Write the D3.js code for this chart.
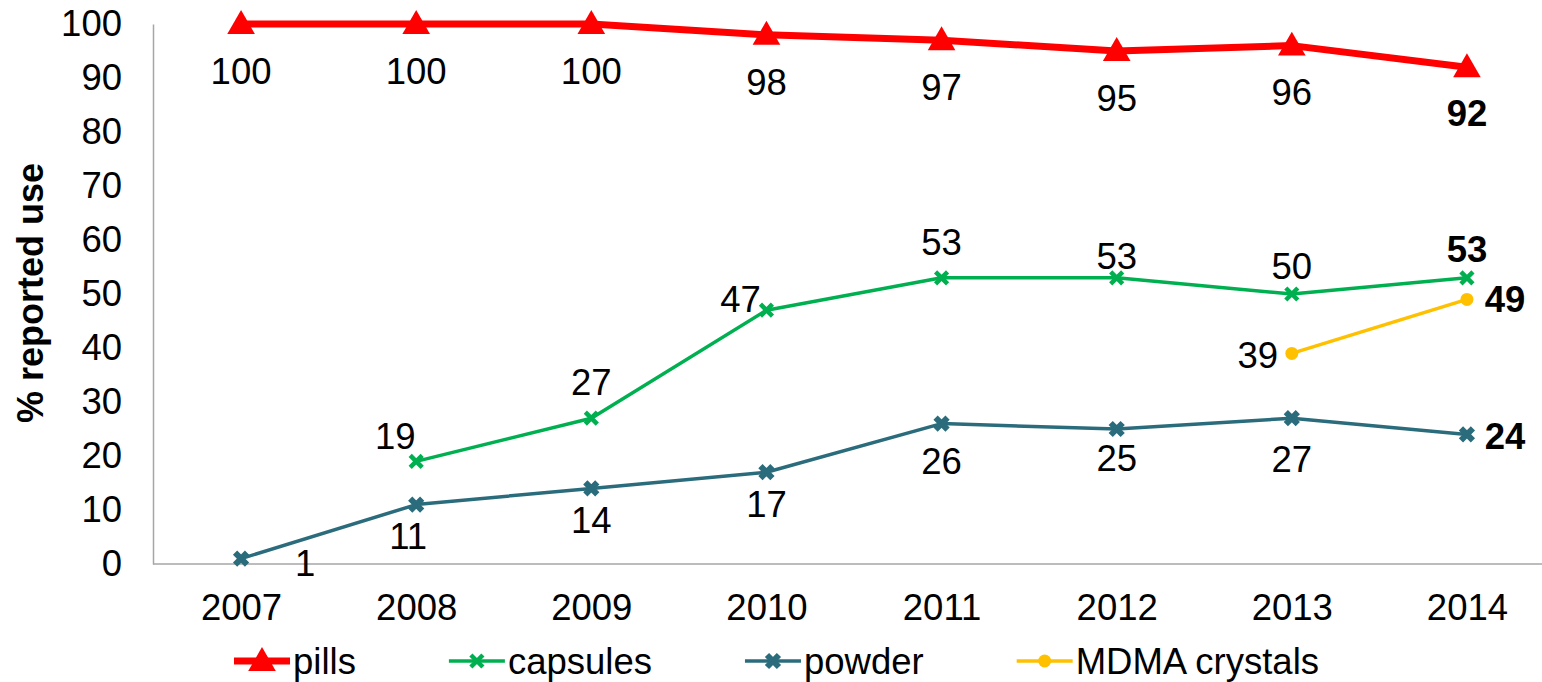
<!DOCTYPE html>
<html lang="en">
<head>
    <meta charset="UTF-8">
    <script src="https://cdn.jsdelivr.net/npm/d3@7"></script>
    <title>% reported use</title>
    <style>
        body { margin: 0; background: white; }
        text { font-family: Arial, "Liberation Sans", sans-serif; fill: #000; }
    </style>
</head>
<body>
    <div id="chart"></div>
    <script>
        // Data
        const years = ["2007", "2008", "2009", "2010", "2011", "2012", "2013", "2014"];
        const pills = [100, 100, 100, 98, 97, 95, 96, 92];
        const capsules = [null, 19, 27, 47, 53, 53, 50, 53];
        const powder = [1, 11, 14, 17, 26, 25, 27, 24];
        const mdmaCrystals = [null, null, null, null, null, null, 39, 49];
        const yTicks = [0, 10, 20, 30, 40, 50, 60, 70, 80, 90, 100];

        const width = 1542, height = 682;
        const fontSize = 36.5;

        const svg = d3.select("#chart").append("svg")
            .attr("width", width)
            .attr("height", height);

        const x = d3.scalePoint()
            .domain(years)
            .range([153.5, 1554.5])
            .padding(0.5);

        const y = d3.scaleLinear()
            .domain([0, 100])
            .range([564, 24]);

        // y axis
        const yAxis = svg.append("g")
            .attr("transform", "translate(153,0)")
            .call(d3.axisLeft(y).tickValues(yTicks).tickSize(0).tickPadding(31));
        yAxis.select(".domain").attr("stroke", "#a6a6a6").attr("stroke-width", 1.5);
        yAxis.selectAll("text")
            .attr("font-size", fontSize)
            .attr("font-family", "Arial, 'Liberation Sans', sans-serif");

        // x axis
        const xAxis = svg.append("g")
            .attr("transform", "translate(0,564)")
            .call(d3.axisBottom(x).tickSize(0).tickPadding(30));
        xAxis.select(".domain").attr("stroke", "#a6a6a6").attr("stroke-width", 1.5)
            .attr("d", "M153,0H1542");
        xAxis.selectAll("text")
            .attr("font-size", fontSize)
            .attr("font-family", "Arial, 'Liberation Sans', sans-serif");

        // axis title
        svg.append("text")
            .attr("transform", "translate(30,293) rotate(-90)")
            .attr("text-anchor", "middle")
            .attr("dominant-baseline", "central")
            .attr("font-size", 36)
            .attr("font-weight", "bold")
            .text("% reported use");

        // marker shapes
        const triangle = d3.symbol().type(d3.symbolTriangle).size(330);
        const drawMarker = (g, type, color, cx, cy) => {
            if (type === "triangle") {
                g.append("path").attr("d", triangle())
                    .attr("transform", `translate(${cx},${cy + 2})`)
                    .attr("fill", color);
            } else if (type === "x") {
                g.append("path").attr("d", "M-6,-6L6,6M-6,6L6,-6")
                    .attr("transform", `translate(${cx},${cy})`)
                    .attr("stroke", color).attr("stroke-width", 4.5).attr("fill", "none");
            } else if (type === "xbold") {
                g.append("path").attr("d", "M-6,-6L6,6M-6,6L6,-6")
                    .attr("transform", `translate(${cx},${cy})`)
                    .attr("stroke", color).attr("stroke-width", 6).attr("fill", "none");
            } else {
                g.append("circle").attr("cx", cx).attr("cy", cy).attr("r", 6.5).attr("fill", color);
            }
        };

        // label offsets relative to each point (centre of label)
        const series = [
            { name: "pills", values: pills, color: "#ff0000", lw: 7, marker: "triangle",
              offsets: [[0, 47], [0, 47], [0, 47], [0, 47], [0, 47], [0, 47], [0, 47], [0, 46]] },
            { name: "capsules", values: capsules, color: "#00b050", lw: 3.5, marker: "x",
              offsets: [null, [-21, -25], [0, -36], [-26, -11], [0, -36], [0, -22], [0, -28], [0, -29]] },
            { name: "powder", values: powder, color: "#2b6c7c", lw: 3.5, marker: "xbold",
              offsets: [[64, 5], [-8, 32], [0, 32], [0, 32], [0, 38], [0, 29], [0, 41], [38, 2]] },
            { name: "MDMA crystals", values: mdmaCrystals, color: "#ffc000", lw: 3.5, marker: "circle",
              offsets: [null, null, null, null, null, null, [-34, 2], [38, 0]] }
        ];

        const line = d3.line()
            .defined(d => d.v !== null)
            .x(d => x(d.year))
            .y(d => y(d.v));

        series.forEach(s => {
            const pts = years.map((year, i) => ({ year, v: s.values[i], i }));
            const g = svg.append("g");
            g.append("path")
                .datum(pts)
                .attr("d", line)
                .attr("fill", "none")
                .attr("stroke", s.color)
                .attr("stroke-width", s.lw)
                .attr("stroke-linejoin", "round");

            pts.filter(d => d.v !== null).forEach(d => {
                drawMarker(g, s.marker, s.color, x(d.year), y(d.v));
            });

            const last = years.length - 1;
            g.selectAll("text.lbl")
                .data(pts.filter(d => d.v !== null))
                .enter().append("text")
                .attr("class", "lbl")
                .attr("x", d => x(d.year) + s.offsets[d.i][0])
                .attr("y", d => y(d.v) + s.offsets[d.i][1])
                .attr("dy", "0.35em")
                .attr("text-anchor", "middle")
                .attr("font-size", fontSize)
                .attr("font-weight", d => d.i === last ? "bold" : "normal")
                .text(d => d.v);
        });

        // legend
        const legend = svg.append("g").attr("transform", "translate(0,661)");
        let lx = 234;
        series.forEach(s => {
            const item = legend.append("g");
            item.append("line")
                .attr("x1", lx).attr("x2", lx + 56)
                .attr("y1", 0).attr("y2", 0)
                .attr("stroke", s.color).attr("stroke-width", s.lw);
            drawMarker(item, s.marker, s.color, lx + 28, 0);
            const t = item.append("text")
                .attr("x", lx + 59)
                .attr("dy", "0.35em")
                .attr("font-size", fontSize)
                .text(s.name);
            lx = lx + 59 + t.node().getComputedTextLength() + 93;
        });
    </script>
</body>
</html>
